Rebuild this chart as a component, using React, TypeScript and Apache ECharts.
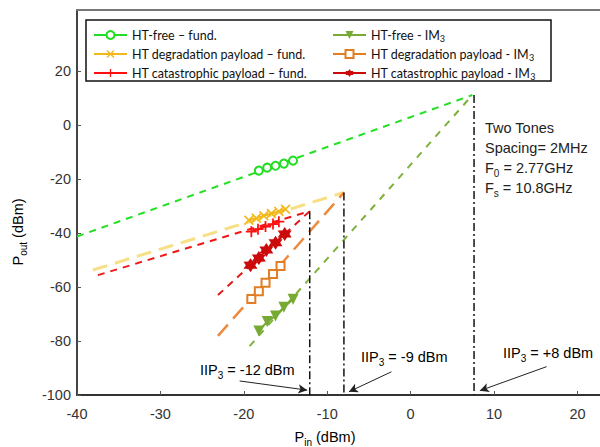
import React, { useEffect, useRef } from 'react';
import * as echarts from 'echarts';

// Axes
const xMin = -40;
const xMax = 22.7;
const xInterval = 10;
const yMin = -100;
const yMax = 42.6;
const yTickValues = [-100, -80, -60, -40, -20, 0, 20];

// Measured points
const freeFundX = [-18.2, -17.2, -16.2, -15.2, -14.1];
const freeFundY = [-16.9, -15.8, -15.1, -14.3, -13.2];
const freeIm3X = [-18.2, -17.2, -16.2, -15.2, -14.1];
const freeIm3Y = [-76.3, -72.8, -70.7, -67.5, -64.5];
const degFundX = [-19.4, -18.5, -17.6, -16.7, -15.8, -15.0];
const degFundY = [-35.3, -34.5, -33.6, -32.8, -32.0, -31.2];
const degIm3X = [-19.1, -18.2, -17.4, -16.5, -15.6];
const degIm3Y = [-64.4, -61.6, -58.4, -55.2, -52.2];
const catFundX = [-19.1, -18.3, -17.4, -16.5, -15.8];
const catFundY = [-39.5, -38.6, -37.6, -36.7, -35.8];
const catIm3X = [-19.2, -18.2, -17.3, -16.2, -15.1];
const catIm3Y = [-51.9, -49.3, -46.3, -43.6, -40.4];

// Extrapolated fits (end points)
const freeFundFitX = [-40, 7.4];
const freeFundFitY = [-41.3, 11.1];
const freeIm3FitX = [-19.3, 7.4];
const freeIm3FitY = [-81.9, 11.1];
const degFundFitX = [-38.1, -8.0];
const degFundFitY = [-53.7, -25.0];
const degIm3FitX = [-23.1, -8.0];
const degIm3FitY = [-78.1, -25.0];
const catFundFitX = [-37.5, -12.1];
const catFundFitY = [-55.6, -31.9];
const catIm3FitX = [-23.1, -12.1];
const catIm3FitY = [-63.0, -31.9];

// IIP3 markers
const iip3X = [-12.1, -8.0, 7.6];
const iip3Top = [-31.9, -25.0, 11.1];
const iip3Labels = ['-12 dBm', '-9 dBm', '+8 dBm'];
const arrowFrom = [[-20.5, -94.8], [-2.3, -91.4], [16.3, -89.5]];
const arrowTo = [[-12.4, -98.2], [-7.4, -98.8], [8.3, -98.4]];

const names = [
  'HT-free \u2013 fund.',
  'HT degradation payload \u2013 fund.',
  'HT catastrophic payload \u2013 fund.',
  'HT-free - IM3',
  'HT degradation payload - IM3',
  'HT catastrophic payload - IM3',
];

const zip = (xs: number[], ys: number[]) => xs.map((x, i) => [x, ys[i]]);

const X_PATH = 'path://M0,1.2L1.2,0L5,3.8L8.8,0L10,1.2L6.2,5L10,8.8L8.8,10L5,6.2L1.2,10L0,8.8L3.8,5Z';
const PLUS_PATH = 'path://M4.2,0H5.8V4.2H10V5.8H5.8V10H4.2V5.8H0V4.2H4.2Z';
const STAR_PATH = 'path://M5,0L6.45,2.49L9.33,2.5L7.9,5L9.33,7.5L6.45,7.51L5,10L3.55,7.51L0.67,7.5L2.1,5L0.67,2.5L3.55,2.49Z';

const FONT = 'Liberation Sans, Arial, sans-serif';

export default function App() {
  const ref = useRef<HTMLDivElement>(null);
  useEffect(() => {
    if (!ref.current) return;
    const chart = echarts.init(ref.current, null, { renderer: 'svg' });

    const markerSeries = (
      name: string, xs: number[], ys: number[], color: string, symbol: string,
      size: number, extra: any = {}
    ) => ({
      name, type: 'line', data: zip(xs, ys), symbol, symbolSize: size,
      lineStyle: { color, width: 2, type: 'solid' },
      itemStyle: { color, borderColor: color, borderWidth: extra.borderWidth ?? 0 },
      symbolRotate: extra.rotate ?? 0,
      z: 5,
    });
    const fitSeries = (xs: number[], ys: number[], color: string, dash: number[], width: number) => ({
      name: '_fit', type: 'line', data: zip(xs, ys), symbol: 'none',
      lineStyle: { color, width, type: dash }, z: 3, silent: true,
    });

    const vSeries = iip3X.map((x, i) => ({
      name: '_v' + i, type: 'line', symbol: 'none', silent: true,
      data: [[x, iip3Top[i]], [x, yMin]],
      lineStyle: { color: '#111', width: 1.5, type: [8, 3, 2, 3] }, z: 4,
      markLine: i === 0 ? {
        silent: true, symbol: ['none', 'arrow'], symbolSize: [7, 9],
        label: { show: false },
        lineStyle: { color: '#222', width: 1, type: 'solid' },
        data: arrowFrom.map((f, k) => [{ coord: f }, { coord: arrowTo[k] }]),
      } : undefined,
    }));

    const richSub = {
      a: { fontFamily: FONT, fontSize: 14.5, color: '#222', lineHeight: 20 },
      s: { fontFamily: FONT, fontSize: 10, color: '#222', lineHeight: 10, verticalAlign: 'bottom' },
    };
    const labelPos = [[200, 370], [361, 357], [503, 353]];
    const iipTexts = iip3Labels.map((t, i) => ({
      type: 'text', x: labelPos[i][0], y: labelPos[i][1], z: 10,
      style: { text: `{a|IIP}{s|3}{a| = ${t}}`, rich: richSub, verticalAlign: 'middle', align: 'left' },
    }));

    const legendCommon = {
      orient: 'vertical', itemWidth: 33, itemHeight: 10, itemGap: 3,
      formatter: (n: string) => n.replace(/IM3$/, 'IM{s|3}'),
      textStyle: {
        fontFamily: 'Lato', fontSize: 12.5, color: '#111', lineHeight: 16,
        rich: { s: { fontFamily: 'Lato', fontSize: 9, lineHeight: 9, verticalAlign: 'bottom', color: '#111' } },
      },
      z: 12,
    };

    chart.setOption({
      animation: false,
      grid: { left: 77, right: 0, top: 10, bottom: 52, containLabel: false, outerBoundsMode: 'none' },
      legend: [
        { ...legendCommon, left: 88, top: 22, data: names.slice(0, 3) },
        { ...legendCommon, left: 327, top: 22, data: names.slice(3) },
      ],
      xAxis: [
        {
          type: 'value', min: xMin, max: xMax, interval: xInterval,
          axisLine: { show: true, onZero: false, lineStyle: { color: '#333', width: 2 } },
          axisTick: { show: true, inside: true, length: 4, lineStyle: { color: '#555' } },
          axisLabel: { fontFamily: FONT, fontSize: 14.5, color: '#333', margin: 11, showMaxLabel: false },
          splitLine: { show: false },
        },
        {
          type: 'value', position: 'top', min: xMin, max: xMax,
          axisLine: { show: true, onZero: false, lineStyle: { color: '#777', width: 2 } },
          axisTick: { show: false }, axisLabel: { show: false }, splitLine: { show: false },
        },
      ],
      yAxis: {
        type: 'value', min: yMin, max: yMax,
        axisLine: { show: true, onZero: false, lineStyle: { color: '#444', width: 2 } },
        axisTick: { show: true, inside: true, length: 4, customValues: yTickValues, lineStyle: { color: '#555' } },
        axisLabel: { fontFamily: FONT, fontSize: 14.5, color: '#333', margin: 6, customValues: yTickValues },
        splitLine: { show: false },
      },
      graphic: [
        {
          type: 'rect', z: 11, shape: { x: 86, y: 20, width: 465, height: 61 },
          style: { fill: '#fff', stroke: '#111', lineWidth: 1.5 },
        },
        ...iipTexts,
        {
          type: 'text', x: 485, y: 118, z: 10,
          style: {
            text: 'Two Tones\nSpacing= 2MHz\n{a|F}{s|0}{a| = 2.77GHz}\n{a|F}{s|s}{a| = 10.8GHz}',
            rich: richSub, fontFamily: FONT, fontSize: 14.5, fill: '#222', lineHeight: 20, align: 'left',
          },
        },
        {
          type: 'text', x: 325, y: 437, z: 10,
          style: { text: '{a|P}{s|in}{a| (dBm)}', rich: richSub, align: 'center', verticalAlign: 'middle' },
        },
        {
          type: 'text', x: 18, y: 232, z: 10, rotation: Math.PI / 2,
          style: { text: '{a|P}{s|out}{a| (dBm)}', rich: richSub, align: 'center', verticalAlign: 'middle' },
        },
      ],
      series: [
        fitSeries(freeFundFitX, freeFundFitY, '#22e022', [7, 6], 2),
        fitSeries(freeIm3FitX, freeIm3FitY, '#7fb03c', [7, 7], 2),
        fitSeries(degFundFitX, degFundFitY, '#f7df85', [15, 8], 3),
        fitSeries(degIm3FitX, degIm3FitY, '#ee8a3e', [15, 8], 2.5),
        fitSeries(catFundFitX, catFundFitY, '#ee1818', [7, 6], 2),
        fitSeries(catIm3FitX, catIm3FitY, '#e01818', [7, 6], 2),
        ...vSeries,
        markerSeries(names[0], freeFundX, freeFundY, '#22dd22', 'emptyCircle', 8, { borderWidth: 2 }),
        markerSeries(names[1], degFundX, degFundY, '#f2b81c', X_PATH, 10),
        markerSeries(names[2], catFundX, catFundY, '#ff1010', PLUS_PATH, 11),
        markerSeries(names[3], freeIm3X, freeIm3Y, '#77aa33', 'triangle', 11, { rotate: 180 }),
        markerSeries(names[4], degIm3X, degIm3Y, '#e27d22', 'emptyRect', 8, { borderWidth: 2 }),
        markerSeries(names[5], catIm3X, catIm3Y, '#cc0a0a', STAR_PATH, 14),
      ],
    });
    return () => chart.dispose();
  }, []);
  return <div ref={ref} style={{ width: 600, height: 447, position: 'absolute', left: 0, top: 0 }} />;
}
